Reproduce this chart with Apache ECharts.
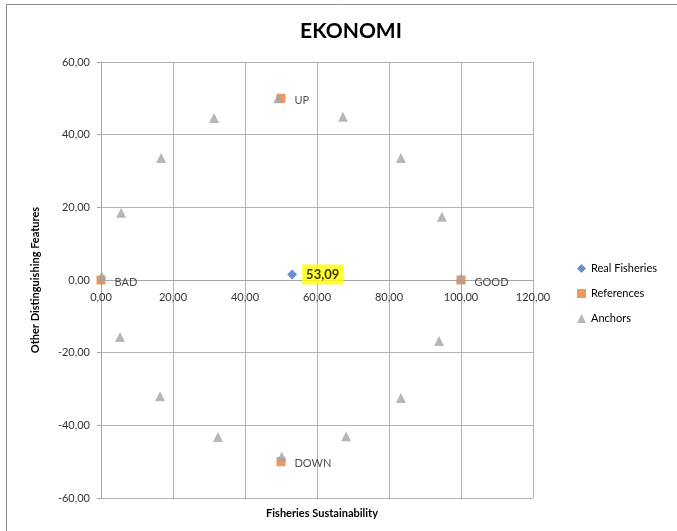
<!DOCTYPE html>
<html><head><meta charset="utf-8">
<script src="https://cdn.jsdelivr.net/npm/echarts@6/dist/echarts.min.js"></script>
<style>html,body{margin:0;padding:0;background:#fff}#c{width:677px;height:531px}</style>
</head><body><div id="c"></div>
<script>
var realFisheries = [[53.09, 1.5]];
var referenceNames = ["BAD", "GOOD", "UP", "DOWN"];
var referencePoints = [[0, 0], [100, 0], [50, 50], [50, -50]];
var anchorPoints = [
  [0.2, 1.1], [5.6, 18.5], [16.7, 33.6], [31.4, 44.6], [49.2, 50.0], [67.2, 44.9],
  [83.3, 33.6], [94.7, 17.4], [100, 0.5], [93.9, -16.8], [83.3, -32.5], [68.1, -43.0],
  [50.2, -48.6], [32.5, -43.2], [16.4, -32.0], [5.3, -15.7]
];
var xTicks = { min: 0, max: 120, interval: 20 };
var yTicks = { min: -60, max: 60, interval: 20 };

var FONT = 'Lato, "Open Sans", sans-serif';
function fmt(v) { return Number(v).toFixed(2).replace('.', ','); }

var GRID_TOP = 62, GRID_BOTTOM = 33, H = 531;
// distance from the bottom of the plot to y = 0 (y range is symmetric)
var zeroOffset = -(H - GRID_TOP - GRID_BOTTOM) * (0 - yTicks.min) / (yTicks.max - yTicks.min);

var chart = echarts.init(document.getElementById('c'), null, { renderer: 'canvas' });
chart.setOption({
  animation: false,
  backgroundColor: '#fff',
  textStyle: { fontFamily: FONT },
  title: [{
    text: 'EKONOMI', left: 346, top: 16, textAlign: 'center',
    textStyle: { fontFamily: FONT, fontSize: 21, fontWeight: 'bold', color: '#000' }
  }, {
    text: 'Fisheries Sustainability', left: 317, top: 503, textAlign: 'center',
    textStyle: { fontFamily: FONT, fontSize: 11, fontWeight: 'bold', color: '#000' }
  }],
  graphic: [{
    type: 'rect', shape: { x: 6.5, y: 4.5, width: 700, height: 560 },
    style: { fill: 'none', stroke: '#8c8c8c', lineWidth: 1 }, silent: true
  }],
  legend: {
    orient: 'vertical', left: 572, top: 258, itemGap: 14,
    itemWidth: 9, itemHeight: 9,
    textStyle: { fontFamily: FONT, fontSize: 11, color: '#000' },
    data: [
      { name: 'Real Fisheries', icon: 'diamond' },
      { name: 'References', icon: 'rect' },
      { name: 'Anchors', icon: 'triangle' }
    ]
  },
  grid: { left: 101, right: 144, top: GRID_TOP, bottom: GRID_BOTTOM },
  xAxis: {
    type: 'value', min: xTicks.min, max: xTicks.max, interval: xTicks.interval,
    position: 'bottom', offset: zeroOffset,
    axisLine: { onZero: false, lineStyle: { color: '#a6a6a6' } },
    axisTick: { show: false },
    axisLabel: { formatter: fmt, fontSize: 11, color: '#333', margin: 12, fontFamily: FONT },
    splitLine: { show: true, lineStyle: { color: '#b3b3b3', width: 1 } }
  },
  yAxis: {
    type: 'value', min: yTicks.min, max: yTicks.max, interval: yTicks.interval,
    name: 'Other Distinguishing Features', nameLocation: 'middle', nameRotate: 90, nameGap: 60,
    nameTextStyle: { fontFamily: FONT, fontSize: 11, fontWeight: 'bold', color: '#000' },
    axisLine: { show: true, onZero: false, lineStyle: { color: '#a6a6a6' } },
    axisTick: { show: true, inside: false, length: 4, lineStyle: { color: '#a6a6a6' } },
    axisLabel: { formatter: fmt, fontSize: 11, color: '#333', margin: 11, fontFamily: FONT },
    splitLine: { show: true, lineStyle: { color: '#b3b3b3', width: 1 } }
  },
  series: [{
    name: 'Real Fisheries', type: 'scatter', symbol: 'diamond', symbolSize: 10,
    itemStyle: { color: '#4472C4' },
    data: realFisheries,
    label: {
      show: true, position: 'right', distance: 5,
      formatter: function (p) { return fmt(p.value[0]); },
      backgroundColor: '#FFFF00', padding: [4, 4, 3, 4],
      fontFamily: FONT, fontSize: 13, fontWeight: 'bold', color: '#000'
    }
  }, {
    name: 'References', type: 'scatter', symbol: 'rect', symbolSize: 9,
    itemStyle: { color: '#ED7D31' },
    data: referencePoints.map(function (p, i) { return { name: referenceNames[i], value: p }; }),
    label: {
      show: true, position: 'right', distance: 9, offset: [0, 2],
      formatter: function (p) { return p.name; },
      fontFamily: FONT, fontSize: 11, color: '#222'
    }
  }, {
    name: 'Anchors', type: 'scatter', symbol: 'triangle', symbolSize: 10,
    itemStyle: { color: '#A5A5A5' },
    data: anchorPoints
  }]
});
</script></body></html>
